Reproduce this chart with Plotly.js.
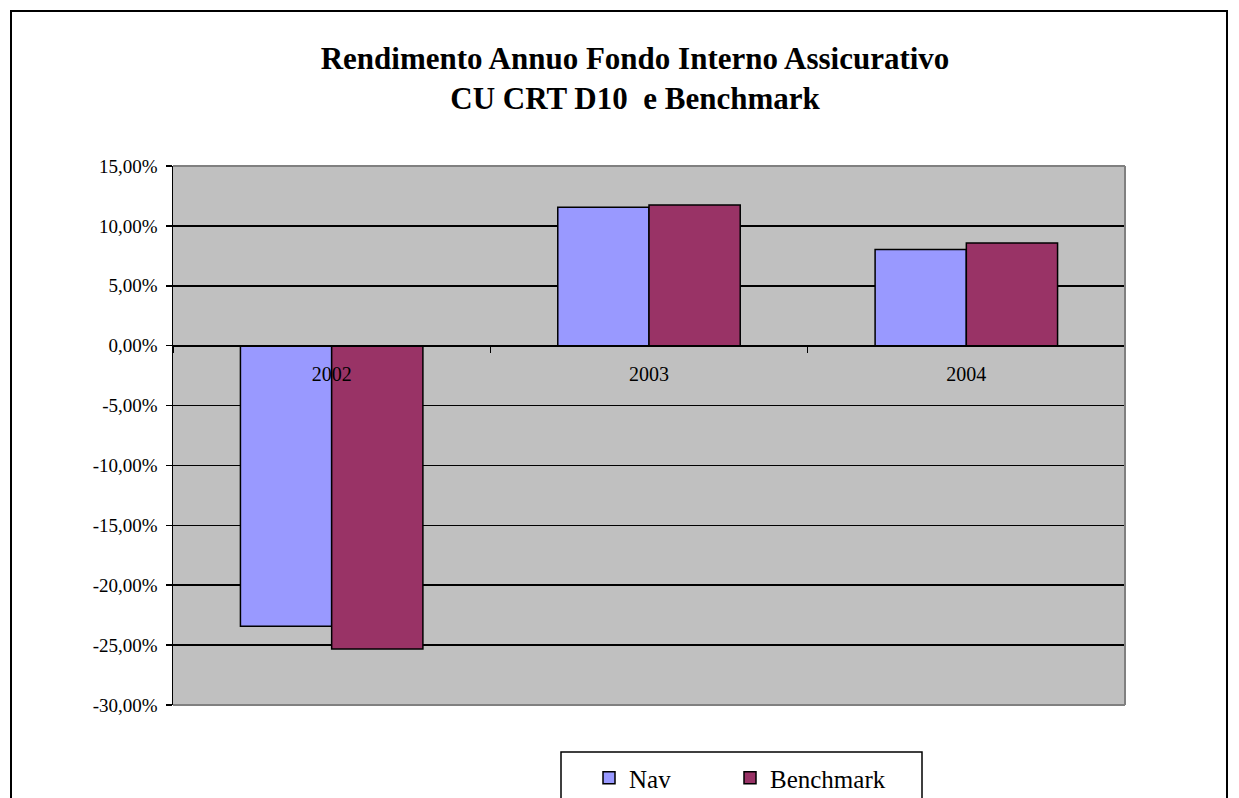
<!DOCTYPE html>
<html>
<head>
<meta charset="utf-8">
<script src="https://cdn.plot.ly/plotly-3.0.1.min.js"></script>
<style>html,body{margin:0;padding:0;background:#fff;}#chart{width:1239px;height:798px;}</style>
</head>
<body>
<div id="chart"></div>
<script>
const categories = ['2002', '2003', '2004'];
const navValues = [-23.43, 11.55, 8.03];
const benchmarkValues = [-25.33, 11.75, 8.57];
const seriesNames = ['Nav', 'Benchmark'];
const yTickVals = [15, 10, 5, 0, -5, -10, -15, -20, -25, -30];
const yTickText = ['15,00%', '10,00%', '5,00%', '0,00%', '-5,00%', '-10,00%', '-15,00%', '-20,00%', '-25,00%', '-30,00%'];
const titleText = '<b>Rendimento Annuo Fondo Interno Assicurativo<br>CU CRT D10  e Benchmark</b>';

const font = "'Times New Roman', 'Liberation Serif', Times, serif";

const traces = [
  {type: 'bar', name: seriesNames[0], x: categories, y: navValues, legend: 'legend',
   marker: {color: '#9999FF', line: {color: '#000', width: 1.5}}},
  {type: 'bar', name: seriesNames[1], x: categories, y: benchmarkValues, legend: 'legend2',
   marker: {color: '#993366', line: {color: '#000', width: 1.5}}}
];

const plotW = 952, plotH = 539, plotL = 173;
const legendBox = {x0: (561 - plotL) / plotW, x1: (922 - plotL) / plotW, y0: -120 / plotH, y1: -47 / plotH};
const legendCommon = {
  orientation: 'h', xanchor: 'left', y: -50 / plotH, yanchor: 'top',
  xref: 'paper', yref: 'paper', borderwidth: 0, bgcolor: 'rgba(0,0,0,0)',
  font: {family: font, size: 25, color: '#000'}, itemwidth: 30
};

const layout = {
  width: 1239, height: 798,
  paper_bgcolor: '#fff',
  plot_bgcolor: '#C0C0C0',
  margin: {l: 173, r: 114, t: 166, b: 93, autoexpand: false},
  barmode: 'group',
  bargap: 0.425,
  bargroupgap: 0,
  showlegend: true,
  title: {text: titleText, x: 635 / 1239, xref: 'container', xanchor: 'center', y: 1 - 69/798, yanchor: 'middle',
          font: {family: font, size: 31, color: '#000'}},
  font: {family: font, color: '#000'},
  xaxis: {
    type: 'category',
    anchor: 'free', position: 30/45,
    showline: true, linecolor: '#000', linewidth: 1.5,
    ticks: 'outside', tickson: 'boundaries', ticklen: 6, tickcolor: '#000', tickwidth: 1.5,
    ticklabelstandoff: 10,
    showgrid: false, zeroline: false,
    tickfont: {family: font, size: 20, color: '#000'},
    fixedrange: true
  },
  yaxis: {
    range: [-30, 15],
    tickvals: yTickVals, ticktext: yTickText,
    showline: true, linecolor: '#000', linewidth: 1.5,
    ticks: 'outside', ticklen: 6, tickcolor: '#000', tickwidth: 1.5,
    ticklabelstandoff: 4,
    showgrid: true, gridcolor: '#000', gridwidth: 1.5,
    zeroline: false,
    tickfont: {family: font, size: 19, color: '#000'},
    fixedrange: true
  },
  legend: Object.assign({}, legendCommon, {x: (589 - plotL) / plotW}),
  legend2: Object.assign({}, legendCommon, {x: (730 - plotL) / plotW}),
  shapes: [
    {type: 'line', xref: 'paper', yref: 'paper', x0: 1, x1: 1, y0: 0, y1: 1,
     line: {color: '#808080', width: 2}},
    {type: 'line', xref: 'paper', yref: 'paper', x0: 0, x1: 1, y0: 0, y1: 0,
     line: {color: '#808080', width: 2}},
    {type: 'line', xref: 'paper', yref: 'paper', x0: 0, x1: 1, y0: 1, y1: 1,
     line: {color: '#808080', width: 2}},
    {type: 'rect', xref: 'paper', yref: 'paper', x0: legendBox.x0, x1: legendBox.x1,
     y0: legendBox.y0, y1: legendBox.y1, line: {color: '#000', width: 1.5}, fillcolor: '#fff', layer: 'below'}
  ]
};

Plotly.newPlot('chart', traces, layout, {displayModeBar: false, staticPlot: true}).then(function() {
  const svg = document.querySelector('#chart .main-svg');
  const ns = 'http://www.w3.org/2000/svg';
  const r = document.createElementNS(ns, 'rect');
  r.setAttribute('x', 11); r.setAttribute('y', 11);
  r.setAttribute('width', 1216); r.setAttribute('height', 820);
  r.setAttribute('fill', 'none'); r.setAttribute('stroke', '#000'); r.setAttribute('stroke-width', 2);
  svg.appendChild(r);
});
</script>
</body>
</html>
